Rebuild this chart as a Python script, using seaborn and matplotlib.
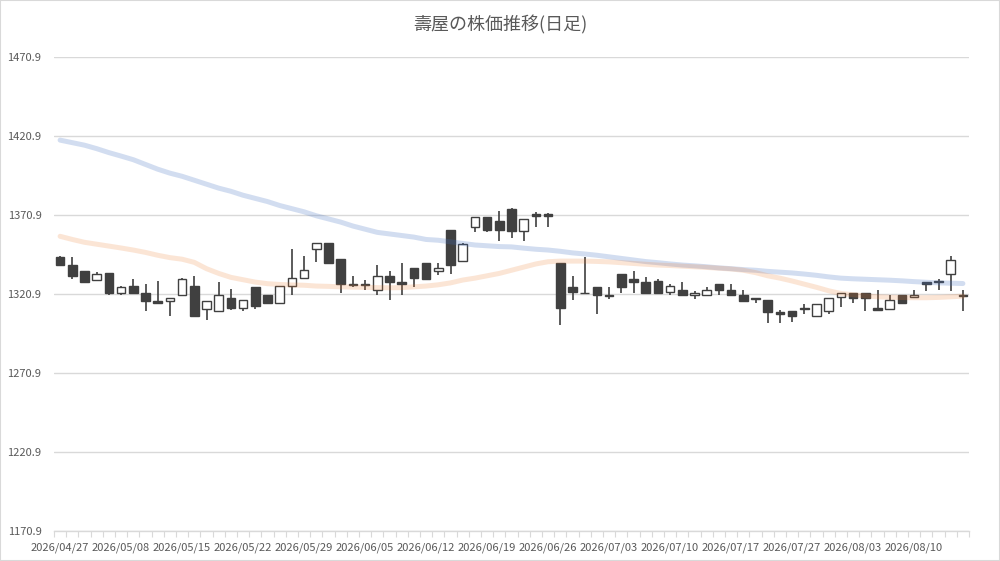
import numpy as np
import pandas as pd
import matplotlib
matplotlib.use("Agg")
import matplotlib.pyplot as plt
import seaborn as sns

dates = [
    "2026/04/27", "2026/04/28", "2026/04/30", "2026/05/01", "2026/05/07",
    "2026/05/08", "2026/05/11", "2026/05/12", "2026/05/13", "2026/05/14",
    "2026/05/15", "2026/05/18", "2026/05/19", "2026/05/20", "2026/05/21",
    "2026/05/22", "2026/05/25", "2026/05/26", "2026/05/27", "2026/05/28",
    "2026/05/29", "2026/06/01", "2026/06/02", "2026/06/03", "2026/06/04",
    "2026/06/05", "2026/06/08", "2026/06/09", "2026/06/10", "2026/06/11",
    "2026/06/12", "2026/06/15", "2026/06/16", "2026/06/17", "2026/06/18",
    "2026/06/19", "2026/06/22", "2026/06/23", "2026/06/24", "2026/06/25",
    "2026/06/26", "2026/06/29", "2026/06/30", "2026/07/01", "2026/07/02",
    "2026/07/03", "2026/07/06", "2026/07/07", "2026/07/08", "2026/07/09",
    "2026/07/10", "2026/07/13", "2026/07/14", "2026/07/15", "2026/07/16",
    "2026/07/17", "2026/07/21", "2026/07/22", "2026/07/23", "2026/07/24",
    "2026/07/27", "2026/07/28", "2026/07/29", "2026/07/30", "2026/07/31",
    "2026/08/03", "2026/08/04", "2026/08/05", "2026/08/06", "2026/08/07",
    "2026/08/10", "2026/08/12", "2026/08/13", "2026/08/14", "2026/08/17",
]

open_ = [
    1344.6, 1339.2, 1335.4, 1330.1, 1334.1, 1321.3, 1325.9, 1321.5, 1316.5, 1316.5,
    1320.1, 1325.9, 1311.4, 1310.0, 1318.4, 1312.1, 1325.3, 1320.3, 1315.2, 1325.9,
    1330.8, 1349.3, 1353.0, 1343.0, 1327.2, 1327.2, 1323.4, 1332.2, 1328.7, 1337.3,
    1340.4, 1335.4, 1361.2, 1342.1, 1363.1, 1369.8, 1366.9, 1375.1, 1361.0, 1371.9,
    1371.9, 1340.6, 1325.3, 1321.9, 1325.3, 1320.5, 1333.5, 1330.4, 1328.5, 1329.1,
    1322.2, 1323.8, 1320.1, 1320.1, 1327.0, 1323.8, 1320.1, 1318.4, 1316.9, 1309.3,
    1310.0, 1311.9, 1306.8, 1310.0, 1318.8, 1321.3, 1321.3, 1312.1, 1311.7, 1320.1,
    1318.8, 1328.3, 1329.1, 1333.9, 1320.1,
]
high = [
    1344.8, 1344.2, 1335.6, 1334.6, 1334.3, 1326.1, 1330.4, 1327.2, 1329.3, 1318.5,
    1330.8, 1332.2, 1316.7, 1328.7, 1324.1, 1317.3, 1325.5, 1320.5, 1326.1, 1349.3,
    1345.1, 1353.2, 1353.2, 1343.2, 1332.2, 1329.9, 1339.2, 1335.6, 1340.4, 1337.5,
    1340.6, 1340.4, 1361.4, 1353.5, 1370.0, 1370.0, 1373.8, 1375.3, 1368.4, 1373.2,
    1372.2, 1340.8, 1332.2, 1344.2, 1325.5, 1325.3, 1333.7, 1335.4, 1332.0, 1330.5,
    1327.6, 1328.5, 1323.0, 1325.5, 1327.2, 1327.0, 1323.8, 1318.5, 1317.1, 1310.8,
    1310.2, 1314.6, 1314.8, 1318.4, 1321.5, 1321.5, 1321.5, 1323.8, 1320.1, 1320.3,
    1323.8, 1328.5, 1330.6, 1344.8, 1323.8,
]
low = [
    1339.0, 1330.4, 1328.3, 1328.9, 1320.1, 1320.1, 1321.0, 1310.2, 1315.0, 1306.8,
    1319.9, 1306.6, 1304.3, 1309.4, 1311.0, 1310.2, 1311.4, 1315.2, 1315.0, 1320.1,
    1330.6, 1341.1, 1340.2, 1321.9, 1325.3, 1323.6, 1320.1, 1317.1, 1320.1, 1325.3,
    1330.2, 1333.3, 1333.9, 1341.9, 1360.0, 1360.0, 1354.7, 1356.2, 1354.7, 1363.1,
    1363.5, 1301.1, 1316.9, 1321.2, 1308.0, 1317.9, 1321.3, 1321.3, 1321.3, 1321.3,
    1320.1, 1319.9, 1318.0, 1319.9, 1320.1, 1319.9, 1316.1, 1315.0, 1302.4, 1302.4,
    1303.0, 1308.1, 1306.6, 1308.1, 1312.9, 1315.0, 1310.0, 1310.4, 1311.5, 1314.8,
    1318.6, 1323.0, 1323.4, 1323.0, 1310.0,
]
close = [
    1339.2, 1332.2, 1328.5, 1333.5, 1321.3, 1325.3, 1321.3, 1316.5, 1315.2, 1318.4,
    1330.6, 1306.8, 1316.5, 1320.3, 1312.1, 1317.1, 1313.1, 1315.4, 1325.9, 1330.8,
    1336.0, 1353.0, 1340.4, 1327.2, 1326.4, 1326.6, 1332.2, 1328.5, 1327.2, 1330.8,
    1330.4, 1337.3, 1339.2, 1352.4, 1369.8, 1361.7, 1361.7, 1361.0, 1368.2, 1370.2,
    1370.2, 1312.1, 1322.2, 1321.3, 1320.3, 1319.6, 1325.3, 1328.7, 1321.5, 1321.5,
    1325.9, 1320.1, 1321.5, 1323.8, 1323.8, 1320.1, 1316.3, 1317.7, 1309.3, 1308.1,
    1306.8, 1311.2, 1314.6, 1318.2, 1321.3, 1318.6, 1318.2, 1310.6, 1316.9, 1315.0,
    1320.3, 1327.6, 1328.3, 1342.7, 1319.4,
]

ma_short = [
    1357.5, 1355.5, 1353.7, 1352.5, 1351.3, 1350.1, 1348.8, 1347.3, 1345.5, 1344.0,
    1343.0, 1341.0, 1337.0, 1334.0, 1331.5, 1330.0, 1328.5, 1327.5, 1327.0, 1326.7,
    1326.5, 1326.0, 1325.8, 1325.5, 1325.3, 1325.2, 1325.0, 1324.9, 1325.0, 1325.5,
    1326.0, 1326.8, 1328.0, 1329.8, 1331.0, 1332.5, 1334.0, 1336.0, 1338.0, 1340.0,
    1341.4, 1341.8, 1341.8, 1341.8, 1341.6, 1341.3, 1340.8, 1340.3, 1339.8, 1339.3,
    1339.0, 1338.6, 1338.2, 1337.8, 1337.3, 1336.8, 1336.0, 1334.5, 1332.5, 1331.0,
    1329.2, 1327.2, 1325.2, 1323.0, 1321.3, 1320.5, 1319.8, 1319.2, 1318.9, 1318.7,
    1318.6, 1318.6, 1318.8, 1319.2, 1319.6,
]
ma_long = [
    1418.4, 1416.8, 1415.2, 1413.0, 1410.5, 1408.3, 1406.0, 1403.0, 1400.0, 1397.5,
    1395.5, 1393.0, 1390.5, 1388.0, 1386.0, 1383.5, 1381.5, 1379.5, 1377.0, 1375.0,
    1373.0, 1370.5, 1368.5, 1366.5, 1364.0, 1362.0, 1360.0, 1359.0, 1358.0, 1357.0,
    1355.5, 1355.0, 1354.0, 1353.0, 1352.0, 1351.5, 1351.0, 1350.8, 1350.0, 1349.3,
    1348.8, 1348.0, 1347.0, 1346.3, 1345.5, 1344.5, 1343.5, 1342.5, 1341.5, 1340.8,
    1340.0, 1339.3, 1338.8, 1338.2, 1337.5, 1337.0, 1336.4, 1336.0, 1335.3, 1334.8,
    1334.3, 1333.6, 1332.8, 1331.8, 1331.0, 1330.6, 1330.3, 1330.0, 1329.7, 1329.3,
    1328.8, 1328.4, 1328.0, 1327.8, 1327.6,
]

y_ticks = [1170.9, 1220.9, 1270.9, 1320.9, 1370.9, 1420.9, 1470.9]
title = "壽屋の株価推移(日足)"

sns.set_theme(style="white")
plt.rcParams["font.family"] = ["Noto Sans CJK JP", "DejaVu Sans"]

df = pd.DataFrame({"date": dates, "open": open_, "high": high, "low": low,
                   "close": close, "ma_short": ma_short, "ma_long": ma_long})
df["pos"] = np.arange(len(df))

fig = plt.figure(figsize=(10, 5.61), dpi=100)
ax = fig.add_axes([0.054, 0.0535, 0.915, 0.8445])

grid_c = "#d9d9d9"
dark = "#404040"
text_c = "#595959"

for yv in y_ticks:
    ax.axhline(yv, color=grid_c, lw=1.0, zorder=0)

up = df["close"] >= df["open"]
ax.vlines(df["pos"], df["low"], df["high"], color=dark, lw=1.2, zorder=2)
bottoms = np.minimum(df["open"], df["close"])
heights = np.maximum(np.abs(df["close"] - df["open"]), 0.5)
colors = np.where(up, "white", dark)
ax.bar(df["pos"], heights, bottom=bottoms, width=0.72, color=colors,
       edgecolor=dark, linewidth=1.0, zorder=3)

sns.lineplot(data=df, x="pos", y="ma_long", ax=ax, color="#4472C4", lw=3.6,
             alpha=0.24, zorder=4, legend=False)
sns.lineplot(data=df, x="pos", y="ma_short", ax=ax, color="#ED7D31", lw=3.6,
             alpha=0.2, zorder=4, legend=False)

ax.set_xlim(-0.5, len(df) - 0.5)
ax.set_ylim(y_ticks[0], y_ticks[-1])
ax.set_yticks(y_ticks)
ax.set_yticklabels([f"{v:.1f}" for v in y_ticks])
major = list(range(0, len(df), 5))
ax.set_xticks(major)
ax.set_xticklabels([dates[i] for i in major])
ax.set_xticks(np.arange(-0.5, len(df), 1), minor=True)
ax.set_xlabel("")
ax.set_ylabel("")
ax.tick_params(axis="y", length=0, pad=9, labelsize=8, labelcolor=text_c)
ax.tick_params(axis="x", which="major", length=0, pad=8, labelsize=8,
               labelcolor=text_c)
ax.tick_params(axis="x", which="minor", length=4, width=0.8, color=grid_c,
               direction="out", bottom=True)
for s in ["left", "right", "top"]:
    ax.spines[s].set_visible(False)
ax.spines["bottom"].set_color(grid_c)
ax.spines["bottom"].set_linewidth(1.0)
ax.grid(False)

fig.text(0.5, 1 - 25 / 561, title, ha="center", va="center", fontsize=13,
         color=text_c)
fig.patches.append(plt.Rectangle((0, 0), 1, 1, transform=fig.transFigure,
                                 fill=False, edgecolor=grid_c, lw=1.5))

fig.savefig("out.png", dpi=100)
